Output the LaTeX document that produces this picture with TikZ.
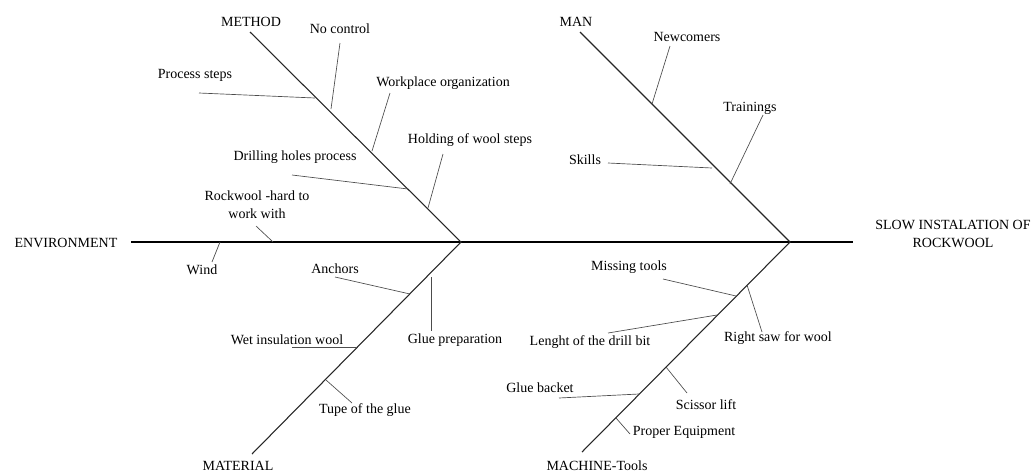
\documentclass[tikz,border=0pt]{standalone}
\usepackage{fontspec}
\setmainfont{Liberation Serif}
\begin{document}
\begin{tikzpicture}[x=0.75pt,y=-0.75pt,
  lbl/.style={inner sep=0pt, font=\fontsize{10.5}{13.5}\selectfont, text=black},
  bone/.style={line width=0.8pt, black!85},
  spine/.style={line width=1.2pt, black},
  twig/.style={line width=0.5pt, black!70}]
\useasboundingbox (0,0) rectangle (1032,472);

% main skeleton
\coordinate (s0) at (131,242);
\coordinate (s1) at (853,242);
\coordinate (j1) at (461,242);
\coordinate (j2) at (790,242);
\coordinate (mt) at (250,32);
\coordinate (mb) at (252,454);
\coordinate (nt) at (580,32);
\coordinate (nb) at (582,452);
\draw[spine] (s0) -- (s1);
\draw[bone] (mt) -- (j1) -- (mb);
\draw[bone] (nt) -- (j2) -- (nb);

% category labels
\node[lbl] (env) at (66,243) {ENVIRONMENT};
\node[lbl] (method) at (251,22) {METHOD};
\node[lbl] (material) at (238,466) {MATERIAL};
\node[lbl] (man) at (576,22) {MAN};
\node[lbl] (machine) at (597,466) {MACHINE-Tools};
\node[lbl, align=center] (effect) at (953,234) {SLOW INSTALATION OF\\ROCKWOOL};

% METHOD causes
\node[lbl] (ps) at (195,75) {Process steps};
\coordinate (ps1) at (199,93); \coordinate (ps2) at (315,98);
\draw[twig] (ps1) -- (ps2);
\node[lbl] (nc) at (340,29) {No control};
\coordinate (nc1) at (340,43); \coordinate (nc2) at (331,109);
\draw[twig] (nc1) -- (nc2);
\node[lbl] (wo) at (443,83) {Workplace organization};
\coordinate (wo1) at (390,93); \coordinate (wo2) at (372,151);
\draw[twig] (wo1) -- (wo2);
\node[lbl] (hw) at (470,140) {Holding of wool steps};
\coordinate (hw1) at (443,154); \coordinate (hw2) at (428,208);
\draw[twig] (hw1) -- (hw2);
\node[lbl] (dh) at (295,157) {Drilling holes process};
\coordinate (dh1) at (292,175); \coordinate (dh2) at (408,189);
\draw[twig] (dh1) -- (dh2);

% ENVIRONMENT causes
\node[lbl, align=center] (rw) at (257,205) {Rockwool -hard to\\work with};
\coordinate (rw1) at (256,226); \coordinate (rw2) at (273,242);
\draw[twig] (rw1) -- (rw2);
\node[lbl] (wind) at (202,270) {Wind};
\coordinate (wi1) at (220,242); \coordinate (wi2) at (212,262);
\draw[twig] (wi1) -- (wi2);

% MATERIAL causes
\node[lbl] (an) at (335,269) {Anchors};
\coordinate (an1) at (335,277); \coordinate (an2) at (410,294);
\draw[twig] (an1) -- (an2);
\node[lbl] (gp) at (455,340) {Glue preparation};
\coordinate (gp1) at (431,277); \coordinate (gp2) at (431,331);
\draw[twig] (gp1) -- (gp2);
\node[lbl] (wet) at (287,340) {Wet insulation wool};
\coordinate (we1) at (292,347); \coordinate (we2) at (357,347);
\draw[twig] (we1) -- (we2);
\node[lbl] (tg) at (365,410) {Tupe of the glue};
\coordinate (tg1) at (326,380); \coordinate (tg2) at (352,403);
\draw[twig] (tg1) -- (tg2);

% MAN causes
\node[lbl] (nw) at (687,37) {Newcomers};
\coordinate (nw1) at (670,46); \coordinate (nw2) at (652,104);
\draw[twig] (nw1) -- (nw2);
\node[lbl] (tr) at (750,108) {Trainings};
\coordinate (tr1) at (763,115); \coordinate (tr2) at (730,184);
\draw[twig] (tr1) -- (tr2);
\node[lbl] (sk) at (585,160) {Skills};
\coordinate (sk1) at (608,163); \coordinate (sk2) at (712,168);
\draw[twig] (sk1) -- (sk2);

% MACHINE causes
\node[lbl] (mi) at (629,267) {Missing tools};
\coordinate (mi1) at (663,279); \coordinate (mi2) at (736,296);
\draw[twig] (mi1) -- (mi2);
\node[lbl] (rs) at (778,338) {Right saw for wool};
\coordinate (rs1) at (747,285); \coordinate (rs2) at (762,332);
\draw[twig] (rs1) -- (rs2);
\node[lbl] (ld) at (590,342) {Lenght of the drill bit};
\coordinate (ld1) at (608,333); \coordinate (ld2) at (717,315);
\draw[twig] (ld1) -- (ld2);
\node[lbl] (sl) at (706,405) {Scissor lift};
\coordinate (sl1) at (666,367); \coordinate (sl2) at (687,393);
\draw[twig] (sl1) -- (sl2);
\node[lbl] (gb) at (540,388) {Glue backet};
\coordinate (gb1) at (559,398); \coordinate (gb2) at (639,394);
\draw[twig] (gb1) -- (gb2);
\node[lbl] (pe) at (684,432) {Proper Equipment};
\coordinate (pe1) at (616,418); \coordinate (pe2) at (630,434);
\draw[twig] (pe1) -- (pe2);
\end{tikzpicture}
\end{document}
